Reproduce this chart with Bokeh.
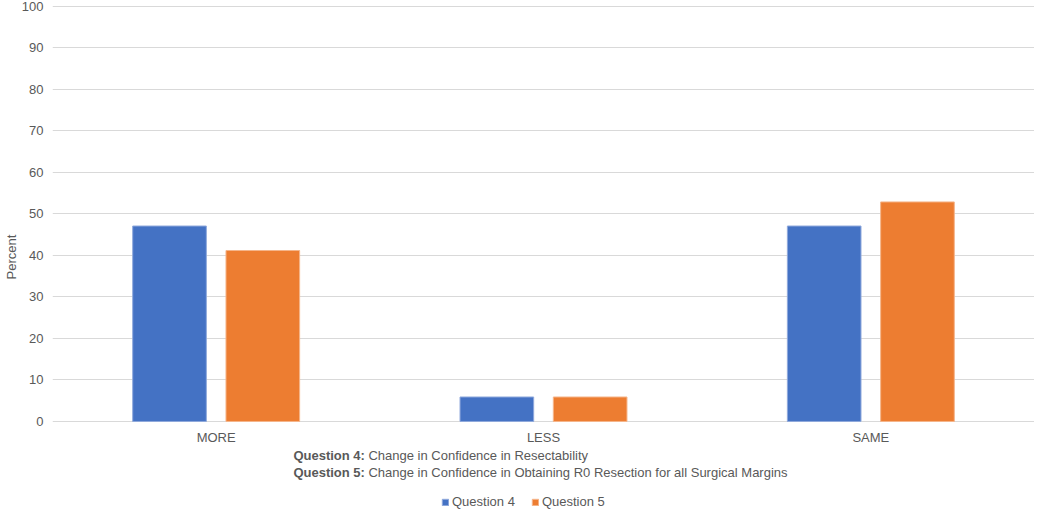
from bokeh.plotting import figure
from bokeh.models import ColumnDataSource, FactorRange, Label, Legend, LegendItem, Range1d
from bokeh.transform import dodge
from bokeh.embed import file_html
from bokeh.resources import INLINE

categories = ["MORE", "LESS", "SAME"]
question4 = [47.1, 5.9, 47.1]
question5 = [41.2, 5.9, 52.9]
series_names = ["Question 4", "Question 5"]
y_ticks = list(range(0, 101, 10))
note_bold = ["Question 4:", "Question 5:"]
note_text = ["Change in Confidence in Resectability",
             "Change in Confidence in Obtaining R0 Resection for all Surgical Margins"]

FONT = "Liberation Sans"
TXT = "#595959"
BLUE = "#4472C4"
ORANGE = "#ED7D31"

src = ColumnDataSource(dict(cat=categories, q4=question4, q5=question5))
lab_src = ColumnDataSource(dict(cat=categories, y=[-3.9] * len(categories)))

p = figure(x_range=FactorRange(*categories, range_padding=0), y_range=Range1d(-21.45, 100.72),
           width=1034, height=510, output_backend="svg", toolbar_location=None,
           min_border_left=50, min_border_right=0, min_border_top=3, min_border_bottom=0)
p.outline_line_color = None
p.background_fill_color = "white"
p.border_fill_color = "white"

r1 = p.vbar(x=dodge("cat", -0.1425, range=p.x_range), top="q4", width=0.225, source=src,
            fill_color=BLUE, line_color="#8fa9dc", line_width=1)
r2 = p.vbar(x=dodge("cat", 0.1425, range=p.x_range), top="q5", width=0.225, source=src,
            fill_color=ORANGE, line_color="#f5b58a", line_width=1)

# category labels (x axis hidden, frame extends below zero to hold notes + legend)
p.text(x="cat", y="y", text="cat", source=lab_src, text_align="center", text_baseline="middle",
       text_font={"value": FONT}, text_font_size="13px", text_color=TXT)
p.xaxis.visible = False

p.yaxis.ticker = y_ticks
p.yaxis.axis_line_color = None
p.yaxis.major_tick_line_color = None
p.yaxis.minor_tick_line_color = None
p.yaxis.major_tick_out = 0
p.yaxis.major_tick_in = 0
p.yaxis.minor_tick_out = 0
p.yaxis.minor_tick_in = 0
p.yaxis.major_label_text_font = FONT
p.yaxis.major_label_text_font_size = "13px"
p.yaxis.major_label_text_color = TXT
p.yaxis.major_label_standoff = 9
p.yaxis.axis_label = "Percent"
p.yaxis.axis_label_text_font = FONT
p.yaxis.axis_label_text_font_size = "13px"
p.yaxis.axis_label_text_font_style = "normal"
p.yaxis.axis_label_text_color = TXT
p.yaxis.axis_label_standoff = 0

p.xgrid.grid_line_color = None
p.ygrid.ticker = y_ticks
p.ygrid.grid_line_color = "#d9d9d9"
p.ygrid.grid_line_width = 1

note_y = [-8.2, -12.3]
for i in range(2):
    p.add_layout(Label(x=0.736, y=note_y[i], text=note_bold[i], text_font=FONT,
                       text_font_size="13px", text_font_style="bold", text_color=TXT,
                       text_baseline="middle"))
    p.add_layout(Label(x=0.736, y=note_y[i], x_offset=75, text=note_text[i],
                       text_font=FONT, text_font_size="13px", text_color=TXT,
                       text_baseline="middle"))

legend = Legend(items=[LegendItem(label=series_names[0], renderers=[r1]),
                       LegendItem(label=series_names[1], renderers=[r2])],
                location=(389, 1), orientation="horizontal",
                border_line_color=None, background_fill_alpha=0,
                padding=2, margin=0, spacing=16,
                glyph_width=8, glyph_height=8, label_standoff=3,
                label_text_font=FONT, label_text_font_size="13px", label_text_color=TXT)
p.add_layout(legend, "center")

open("out.html", "w").write(file_html(p, INLINE))
